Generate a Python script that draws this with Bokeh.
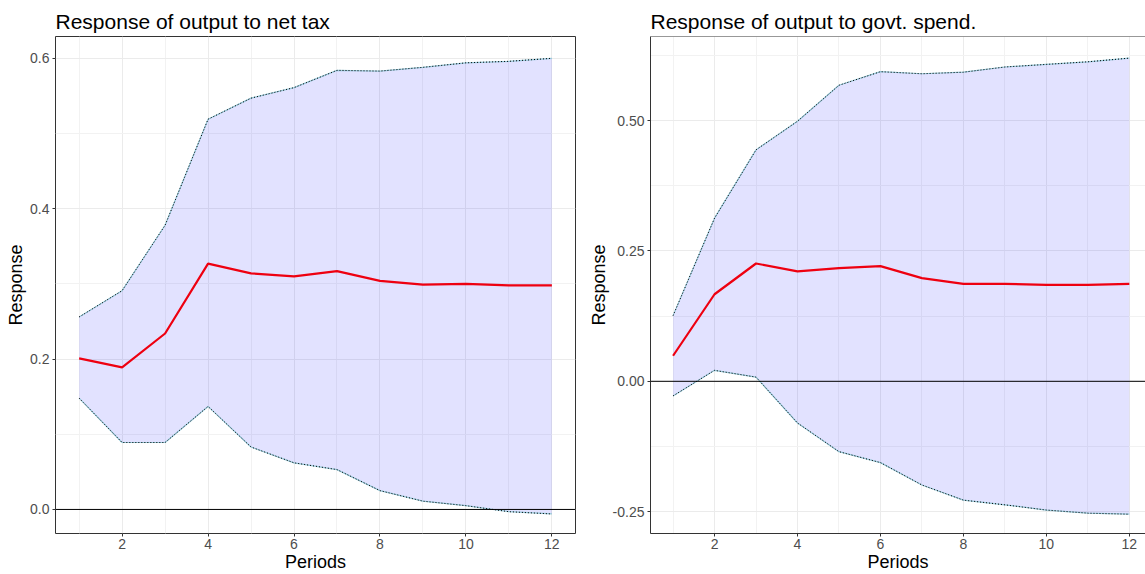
from bokeh.plotting import figure
from bokeh.layouts import row
from bokeh.models import FixedTicker, Span, Range1d
from bokeh.embed import file_html
from bokeh.resources import INLINE

periods = [1, 2, 3, 4, 5, 6, 7, 8, 9, 10, 11, 12]

tax_resp = [0.201, 0.189, 0.234, 0.327, 0.314, 0.310, 0.317, 0.304, 0.299, 0.300, 0.298, 0.298]
tax_upper = [0.256, 0.291, 0.378, 0.519, 0.547, 0.561, 0.584, 0.583, 0.588, 0.594, 0.596, 0.600]
tax_lower = [0.148, 0.089, 0.089, 0.137, 0.083, 0.062, 0.053, 0.025, 0.011, 0.005, -0.003, -0.006]

gov_resp = [0.049, 0.167, 0.226, 0.211, 0.217, 0.221, 0.198, 0.187, 0.187, 0.185, 0.185, 0.187]
gov_upper = [0.126, 0.313, 0.444, 0.499, 0.568, 0.594, 0.590, 0.593, 0.603, 0.608, 0.613, 0.620]
gov_lower = [-0.028, 0.021, 0.008, -0.080, -0.135, -0.156, -0.199, -0.228, -0.237, -0.247, -0.253, -0.255]

x_ticks = [2, 4, 6, 8, 10, 12]
x_minor = [1, 3, 5, 7, 9, 11]
tax_yticks = [0.0, 0.2, 0.4, 0.6]
tax_ylabels = ["0.0", "0.2", "0.4", "0.6"]
tax_yminor = [0.1, 0.3, 0.5]
gov_yticks = [-0.25, 0.0, 0.25, 0.5]
gov_ylabels = ["-0.25", "0.00", "0.25", "0.50"]
gov_yminor = [-0.125, 0.125, 0.375, 0.625]

FONT = "Liberation Sans"


def make_panel(title, resp, upper, lower, yticks, ylabels, yminor, xr, yr,
               width, bl, br, outline=True):
    p = figure(width=width, height=574, output_backend="svg", toolbar_location=None,
               x_range=Range1d(*xr), y_range=Range1d(*yr),
               min_border_left=bl, min_border_right=br, min_border_top=36,
               min_border_bottom=39, title=title)
    p.title.text_font = FONT
    p.title.text_font_size = "21px"
    p.title.text_font_style = "normal"
    p.title.text_color = "black"
    p.title.offset = 0
    p.title.standoff = 8

    p.varea(x=periods, y1=lower, y2=upper, fill_color="blue", fill_alpha=0.115)
    for band in (upper, lower):
        p.line(periods, band, line_color="#8cc4d6", line_width=1.2, line_alpha=0.9)
        p.line(periods, band, line_color="black", line_width=1, line_dash="1 2")
    p.add_layout(Span(location=0, dimension="width", line_color="black", line_width=1))
    p.line(periods, resp, line_color="#ee0010", line_width=2.2)

    p.xaxis.ticker = FixedTicker(ticks=x_ticks, minor_ticks=x_minor)
    p.yaxis.ticker = FixedTicker(ticks=yticks, minor_ticks=yminor)
    p.yaxis.major_label_overrides = {t: l for t, l in zip(yticks, ylabels)}

    for ax in (p.xaxis, p.yaxis):
        ax.major_label_text_font = FONT
        ax.major_label_text_font_size = "14px"
        ax.major_label_text_color = "#4d4d4d"
        ax.axis_label_text_font = FONT
        ax.axis_label_text_font_size = "18px"
        ax.axis_label_text_font_style = "normal"
        ax.axis_label_text_color = "black"
        ax.major_tick_line_color = "#333333"
        ax.major_tick_in = 0
        ax.major_tick_out = 3
        ax.minor_tick_line_color = None
        ax.major_label_standoff = 1
        ax.axis_label_standoff = 0
        if outline:
            ax.axis_line_color = None
        else:
            ax.axis_line_color = "#333333"
            ax.axis_line_width = 1
    p.yaxis.major_label_standoff = 2
    p.yaxis.axis_label_standoff = 1
    p.xaxis.axis_label = "Periods"
    p.yaxis.axis_label = "Response"

    for g in (p.xgrid, p.ygrid):
        g.grid_line_color = "#ebebeb"
        g.grid_line_width = 1
        g.minor_grid_line_color = "#f2f2f2"
        g.minor_grid_line_width = 1

    if outline:
        p.outline_line_color = "#333333"
        p.outline_line_width = 1
    else:
        p.outline_line_color = None
        p.add_layout(Span(location=yr[1], dimension="width", line_color="#333333", line_width=1))
    p.background_fill_color = "white"
    p.border_fill_color = "white"
    return p


p1 = make_panel("Response of output to net tax", tax_resp, tax_upper, tax_lower,
                tax_yticks, tax_ylabels, tax_yminor, (0.45, 12.55), (-0.032, 0.629),
                585, 55, 10, outline=True)
p2 = make_panel("Response of output to govt. spend.", gov_resp, gov_upper, gov_lower,
                gov_yticks, gov_ylabels, gov_yminor, (0.456, 12.39), (-0.292, 0.6615),
                560, 60, 0, outline=False)

layout = row(p1, p2)
open("out.html", "w").write(file_html(layout, INLINE))
